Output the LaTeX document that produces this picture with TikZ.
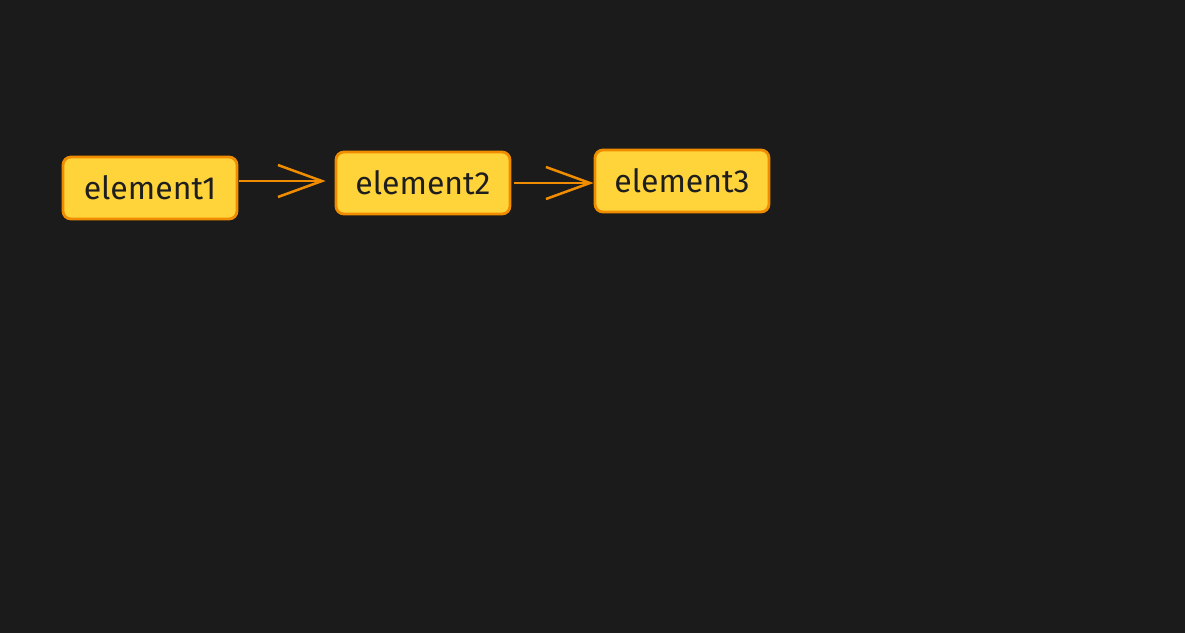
\documentclass[tikz,border=0pt]{standalone}
\usepackage{fontspec}
\setmainfont{Fira Sans}
\usetikzlibrary{arrows.meta}
\usetikzlibrary{positioning}

\definecolor{bg}{HTML}{1B1B1B}
\definecolor{boxfill}{HTML}{FFD43B}
\definecolor{boxline}{HTML}{F08C00}
\definecolor{ink}{HTML}{1E1E1E}

\begin{document}
\begin{tikzpicture}[x=1pt,y=-1pt,
elem/.style={draw=boxline, fill=boxfill, line width=2.8pt, rounded corners=8pt,
minimum width=174pt, minimum height=62pt, inner sep=0pt, text=ink,
font=\fontsize{32}{34}\selectfont},
link/.style={draw=boxline, line width=2.5pt,
-{Straight Barb[length=44pt,width=32pt,line width=2.5pt]}}]
\fill[bg] (0,0) rectangle (1185,633);
\useasboundingbox (0,0) rectangle (1185,633);
\node[elem] (e1) at (150,188) {element1};
\node[elem] (e2) at (423,183) {element2};
\node[elem] (e3) at (682,181) {element3};
\draw[link] ([xshift=1pt,yshift=7pt]e1.east) -- ([xshift=-9pt,yshift=2pt]e2.west);
\draw[link] ([xshift=3pt]e2.east) -- ([yshift=-2pt]e3.west);
\end{tikzpicture}
\end{document}
